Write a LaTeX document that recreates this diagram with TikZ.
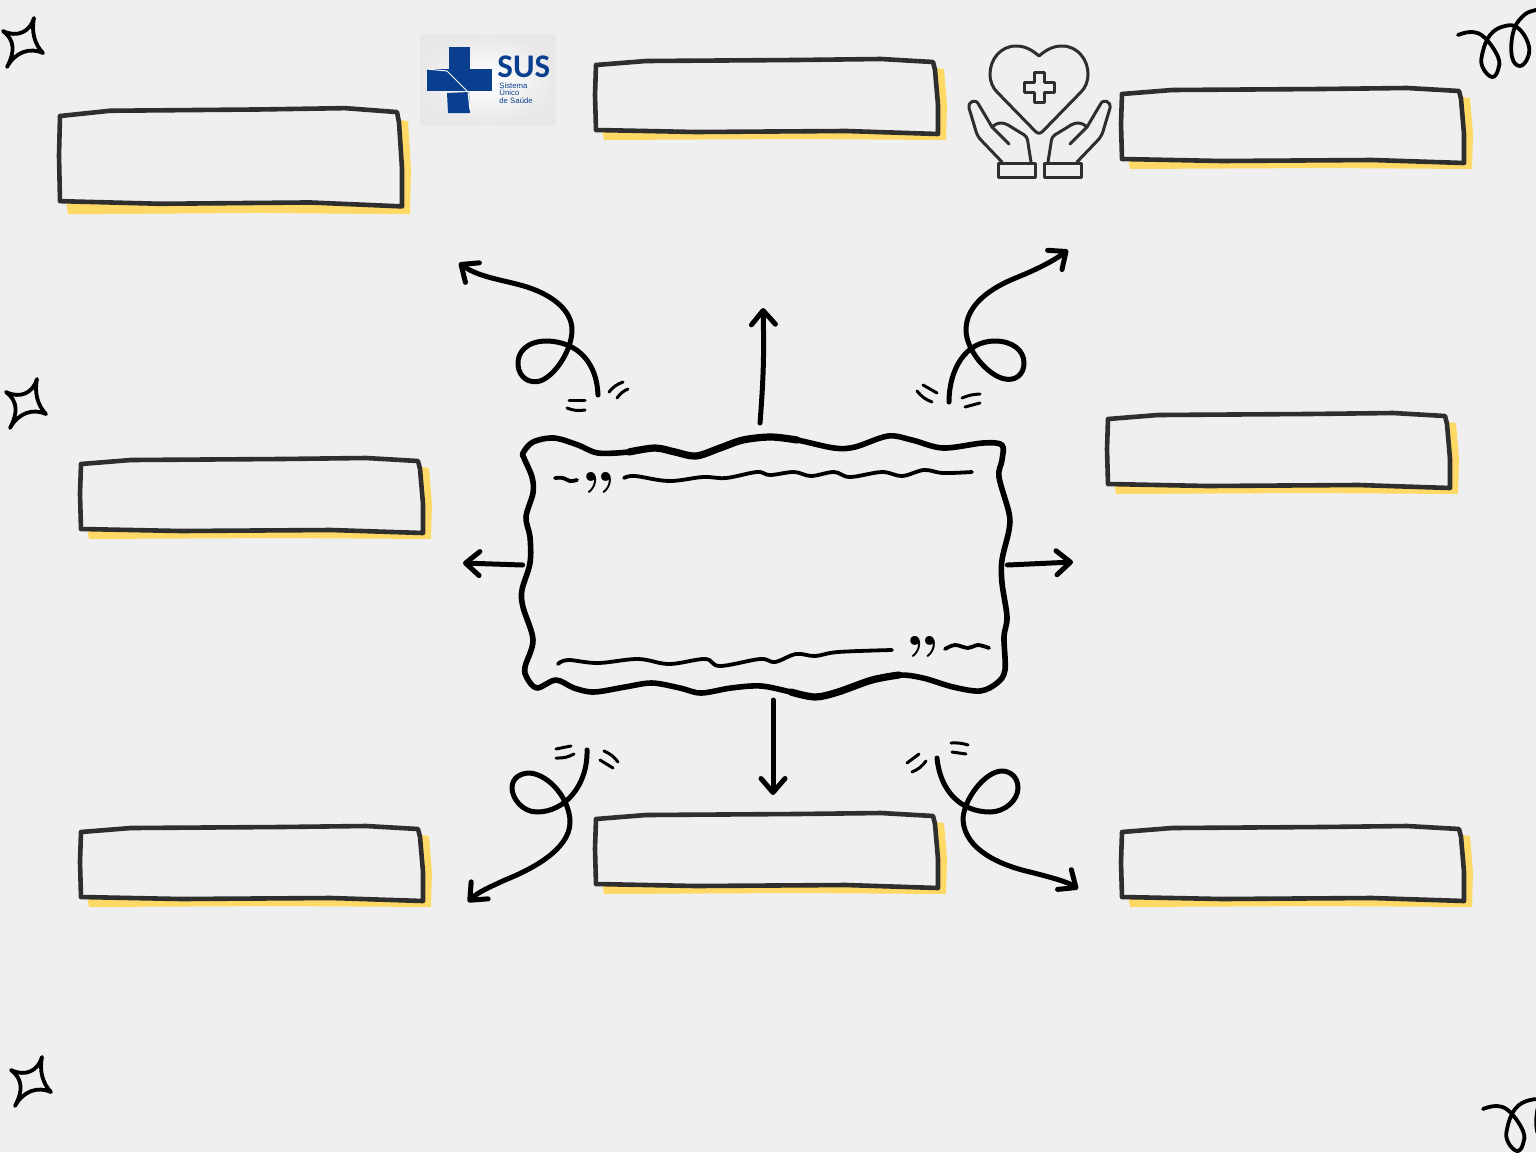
\documentclass[tikz,border=0pt]{standalone}
\usepackage{fontspec}
\usetikzlibrary{arrows.meta}
\newfontfamily\susfont{Carlito}
\newfontfamily\susnote{Liberation Sans}
\definecolor{paper}{HTML}{EFEFEF}
\definecolor{inkbox}{HTML}{2E2E2E}
\definecolor{marker}{HTML}{FFD966}
\definecolor{susblue}{HTML}{0A3F90}
\tikzset{
  swirl/.style={line width=2.5pt,line cap=round,line join=round,-{Straight Barb[length=7pt,width=12pt,round]}},
  tick/.style={line width=1.5pt,line cap=round},
  wobble/.style={line width=1.9pt,line cap=round,line join=round},
  doodle/.style={line width=1.9pt,line cap=round,line join=round},
  icon/.style={line width=1.5pt,color=inkbox,line join=round,line cap=round}
}
% name, left, top, yscale
\newcommand{\sketchbox}[4]{
\begin{scope}[shift={(#2,#3)},yscale=#4]
\fill[marker] (340,3) -- (348,4) -- (351,40) -- (350,75) -- (200,74) -- (8,75) -- (6,64) -- cycle;
\fill[paper] (0,0) -- (50,-4) -- (285,-6) -- (337,-3) -- (342,20) -- (342,69) -- (250,66) -- (100,68) -- (0,65) -- cycle;
\draw[inkbox,line width=2.3pt,line join=round] (0,0) -- (50,-4) -- (200,-5) -- (285,-6) -- (337,-3) -- (339,5) -- (342,40) -- (342,69) -- (250,66) -- (100,67) -- (0,65) -- (-1,30) -- cycle;
\node (#1) at (170,32) {};
\end{scope}
}
\begin{document}
\begin{tikzpicture}[x=0.5pt,y=-0.5pt]

\clip (0,0) rectangle (1536,1152);
\fill[paper] (0,0) rectangle (1536,1152);

% -------- boxes -----------
\sketchbox{topleftbox}{60}{116}{1.31}
\sketchbox{topmidbox}{596}{65}{1}
\sketchbox{toprightbox}{1122}{94}{1}
\sketchbox{midrightbox}{1108}{419}{1}
\sketchbox{midleftbox}{81}{464}{1}
\sketchbox{lowleftbox}{81}{832}{1}
\sketchbox{lowmidbox}{596}{819}{1}
\sketchbox{lowrightbox}{1122}{832}{1}

% -------- logo -----------
\shade[inner color=white,outer color=black!9] (420,34) rectangle (556,125);
\fill[susblue] (449,47) rectangle (470,69);
\fill[susblue] (427,69) rectangle (492,91);
\fill[susblue] (447,93) -- (469,92) -- (470,113) -- (448,113) -- cycle;
\draw[white,line width=0.5pt] (427,69) -- (447,71) -- (468,92) -- (470,110);
\node (susname) [anchor=west,inner sep=0pt,text=susblue,font=\susfont\bfseries\fontsize{16.5}{16.5}\selectfont] at (497,67) {SUS};
\node (susnote) [anchor=north west,inner sep=0pt,align=left,text=susblue,font=\susnote\fontsize{3.9}{3.8}\selectfont] at (499,82) {Sistema\\Único\\de Saúde};

% -------- heart and hands -----------
\draw[icon] (1039,56) .. controls (1031,49) and (1024,46) .. (1016,46) .. controls (1000,46) and (990,60) .. (990,74) .. controls (990,82) and (993,88) .. (997,92) -- (1035,131) .. controls (1038,134) and (1040,134) .. (1043,131) -- (1081,92) .. controls (1085,88) and (1088,82) .. (1088,74) .. controls (1088,60) and (1078,46) .. (1062,46) .. controls (1054,46) and (1047,49) .. (1039,56) -- cycle;
\draw[icon] (1034.5,72) -- (1044.5,72) -- (1044.5,82) -- (1054,82) -- (1054,92) -- (1044.5,92) -- (1044.5,102) -- (1034.5,102) -- (1034.5,92) -- (1024,92) -- (1024,82) -- (1034.5,82) -- cycle;
\foreach \flip/\off in {1/0,-1/2079}{
\begin{scope}[shift={(\off,0)},xscale=\flip]
\draw[icon] (998,163) rectangle (1035,177);
\draw[icon] (1002,162) -- (980,139) .. controls (977,135) and (976,132) .. (975,128) -- (969,108) .. controls (968,101) and (976,98) .. (979,105) -- (992,127) .. controls (997,122) and (1003,122) .. (1008,125) -- (1021,133) .. controls (1026,135) and (1028,139) .. (1028,143) -- (1031,162);
\draw[icon] (992,127) -- (1009,144);
\end{scope}
}

% -------- stars and curls -----------
\foreach \dx/\dy in {0/0,3/361,8/1039}{
\draw[doodle,shift={(\dx,\dy)}] (3,31) .. controls (17,38) and (30,32) .. (34,18) .. controls (31,32) and (35,45) .. (43,53) .. controls (30,47) and (15,52) .. (7,67) .. controls (15,52) and (15,40) .. (3,31) -- cycle;
}
\foreach \dx/\dy in {0/0,25/1074}{
\draw[doodle,shift={(\dx,\dy)}] plot[smooth,tension=.7] coordinates {(1458,35) (1472,32) (1485,38) (1498,57) (1498,70) (1492,77) (1483,68) (1482,55) (1490,35) (1505,26) (1518,28) (1528,43) (1528,57) (1520,66) (1512,57) (1513,33) (1522,17) (1536,10) (1560,8)};
}

% -------- centre frame -----------
\node (frame) [minimum width=242pt,minimum height=128pt,inner sep=0pt] at (765,565) {};
\draw[line width=2.8pt,line join=round,fill=paper] plot[smooth cycle,tension=.55] coordinates {
(523,453) (533,442) (554,438) (578,445) (598,453) (629,452) (655,448) (675,452) (696,456) (720,448) (743,440) (771,437) (797,440) (834,448) (855,447) (888,436) (912,440) (943,448) (983,443) (1002,445)
(1002,460) (999,477) (1009,513) (1009,530) (1002,560) (1002,583) (1007,617) (1004,637) (1005,670) (997,683) (980,691)
(953,687) (923,678) (899,675) (872,680) (838,692) (815,697) (791,692) (761,686) (731,688) (701,693) (680,688) (652,683) (625,687) (594,692) (574,688) (556,680) (537,688) (527,678)
(525,667) (533,640) (523,607) (522,590) (530,563) (530,537) (526,517) (533,493) (532,477) (524,458)};
\draw[line width=3.6pt,line cap=round] plot[smooth,tension=.55] coordinates {(629,452) (655,448) (675,452) (696,456) (720,448) (743,440) (771,437) (797,440)};
\draw[line width=3.6pt,line cap=round] plot[smooth,tension=.55] coordinates {(899,675) (872,680) (838,692) (815,697) (791,692)};
\draw[wobble] plot[smooth,tension=.6] coordinates {(624,478) (635,476) (669,481) (703,477) (726,478) (757,472) (770,475) (794,472) (811,476) (834,472) (850,477) (882,472) (902,476) (924,470) (943,473) (972,472)};
\draw[wobble] plot[smooth,tension=.6] coordinates {(558,664) (568,660) (598,663) (638,659) (669,664) (705,659) (720,666) (760,659) (775,662) (796,654) (815,656) (838,652) (892,650)};
\draw[wobble] plot[smooth,tension=.6] coordinates {(555,478) (563,478) (570,481) (577,480)};
\draw[wobble] plot[smooth,tension=.6] coordinates {(945,649) (955,645) (968,648) (978,645) (989,648)};
\node (quoteopen) [anchor=north,inner sep=0pt,font=\bfseries\fontsize{31}{31}\selectfont] at (599,472) {”};
\node (quoteclose) [anchor=north,inner sep=0pt,font=\bfseries\fontsize{31}{31}\selectfont] at (923,636) {”};

% -------- arrows -----------
\coordinate (upstart) at (760,423);
\coordinate (upend) at (763,308);
\coordinate (downstart) at (773,700);
\coordinate (downend) at (773,795);
\coordinate (leftend) at (463,563);
\coordinate (rightend) at (1073,562);
\draw[swirl] (upstart) to[bend right=3] (upend);
\draw[swirl] (downstart) -- (downend);
\draw[swirl] (frame.west) -- (leftend);
\draw[swirl] (frame.east) -- (rightend);

\coordinate (ulstart) at (598,395);
\coordinate (ulend) at (459,263);
\draw[swirl] (ulstart) .. controls (597,365) and (580,342) .. (547,341) .. controls (527,341) and (517,352) .. (518,365) .. controls (519,378) and (530,384) .. (540,381) .. controls (555,376) and (572,350) .. (572,330) .. controls (572,312) and (555,296) .. (527,287) .. controls (505,280) and (480,278) .. (ulend);
\coordinate (urstart) at (949,402);
\coordinate (urend) at (1068,250);
\draw[swirl] (urstart) .. controls (949,370) and (965,341) .. (995,341) .. controls (1012,341) and (1024,350) .. (1024,363) .. controls (1024,375) and (1015,381) .. (1005,379) .. controls (988,376) and (966,350) .. (966,330) .. controls (966,305) and (990,288) .. (1018,277) .. controls (1035,270) and (1052,262) .. (urend);
\coordinate (llstart) at (587,750);
\coordinate (llend) at (468,902);
\draw[swirl] (llstart) .. controls (588,785) and (565,812) .. (537,812) .. controls (522,812) and (512,798) .. (512,788) .. controls (512,778) and (520,773) .. (530,773) .. controls (550,775) and (570,800) .. (570,822) .. controls (570,850) and (530,870) .. (505,880) .. controls (490,887) and (478,892) .. (llend);
\coordinate (lrstart) at (937,758);
\coordinate (lrend) at (1078,889);
\draw[swirl] (lrstart) .. controls (940,790) and (960,812) .. (990,812) .. controls (1005,812) and (1018,800) .. (1018,788) .. controls (1018,777) and (1010,771) .. (1002,771) .. controls (985,771) and (963,800) .. (963,820) .. controls (965,850) and (1000,865) .. (1030,872) .. controls (1050,877) and (1068,882) .. (lrend);

% -------- ticks -----------
\draw[tick] (609,392) to[bend left=15] (623,382);
\draw[tick] (617,398) to[bend left=15] (628,389);
\draw[tick] (569,400) -- (585,400);
\draw[tick] (567,408) to[bend right=15] (585,410);
\draw[tick] (923,385) -- (937,393);
\draw[tick] (917,391) to[bend right=15] (932,402);
\draw[tick] (962,398) to[bend left=10] (980,394);
\draw[tick] (965,407) -- (980,403);
\draw[tick] (556,749) -- (571,746);
\draw[tick] (556,758) to[bend right=15] (574,754);
\draw[tick] (604,751) to[bend left=15] (618,762);
\draw[tick] (600,760) -- (613,768);
\draw[tick] (907,763) -- (919,754);
\draw[tick] (912,772) to[bend right=15] (926,761);
\draw[tick] (951,743) to[bend left=10] (968,745);
\draw[tick] (952,752) -- (966,754);

\end{tikzpicture}
\end{document}
